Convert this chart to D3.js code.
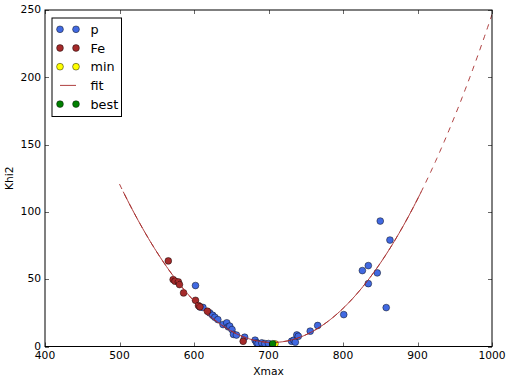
<!DOCTYPE html>
<html>
<head>
<meta charset="utf-8">
<script src="https://cdn.jsdelivr.net/npm/d3@7"></script>
<style>
  body { margin: 0; background: #fff; }
  svg { display: block; }
</style>
</head>
<body>
<div class="chart"></div>
<script>
// proton points (Xmax, Khi2)
const pX = [602, 608, 612, 621, 625, 628, 632, 639, 644, 646, 648, 651, 653, 657, 668, 682, 684, 686, 691, 695, 700, 731, 734, 736, 738, 740, 756, 766, 801, 826, 834, 834, 846, 850, 858, 863]
const pY = [45.3, 29.4, 29, 25, 23.2, 21.7, 20, 16.3, 17.6, 14.6, 15.1, 12.6, 9, 8.5, 6.9, 4.7, 2.7, 2.2, 2.7, 2.2, 2.2, 3.9, 4.7, 3.2, 8.6, 7.6, 11.4, 15.6, 23.7, 56.4, 60.1, 46.7, 54.7, 93.2, 28.9, 79.1]
// iron points
const feX = [565.5, 572, 574.5, 579, 580.5, 586, 602, 606, 608, 618, 666]
const feY = [63.6, 49.7, 48.5, 48, 46, 39.8, 34.3, 30.4, 29.5, 26.2, 3.9]
const minPt = [708.7, 2]
const bestPt = [705.6, 2]
// parabola fit: a*(x-x0)^2 + c
const fitA = 0.0028, fitX0 = 705, fitC = 3
const fitSolid = [505, 905]
const fitDashed = [500, 1000]

const xTicks = [400, 500, 600, 700, 800, 900, 1000]
const yTicks = [0, 50, 100, 150, 200, 250]
const legendLabels = ["p", "Fe", "min", "fit", "best"]

const width = 510, height = 383
const margin = { top: 10, right: 18, bottom: 36, left: 45 }
const colors = { p: "#4169e1", Fe: "#a52a2a", min: "#ffff00", best: "#008000", fit: "#a52a2a" }

const x = d3.scaleLinear().domain([400, 1000]).range([margin.left, width - margin.right])
const y = d3.scaleLinear().domain([0, 250]).range([height - margin.bottom - 0.5, margin.top])

const svg = d3.select(".chart").append("svg")
  .attr("width", width)
  .attr("height", height)
  .attr("font-family", "DejaVu Sans, sans-serif")

svg.append("clipPath").attr("id", "clip")
  .append("rect")
  .attr("x", x(400)).attr("y", y(250))
  .attr("width", x(1000) - x(400)).attr("height", y(0) - y(250))

const plot = svg.append("g").attr("clip-path", "url(#clip)")

const r = 3.4

function dots(xs, ys, color) {
  plot.append("g").selectAll("circle")
    .data(xs.map((v, i) => [v, ys[i]]))
    .join("circle")
    .attr("cx", d => x(d[0]))
    .attr("cy", d => y(d[1]))
    .attr("r", r)
    .attr("fill", color)
    .attr("stroke", "#000")
    .attr("stroke-width", 0.45)
}

dots(pX, pY, colors.p)
dots(feX, feY, colors.Fe)
dots([minPt[0]], [minPt[1]], colors.min)

const fit = v => fitA * (v - fitX0) ** 2 + fitC
const line = d3.line().x(d => x(d)).y(d => y(fit(d)))

plot.append("path")
  .attr("d", line(d3.range(fitDashed[0], fitDashed[1] + 0.1, 2)))
  .attr("fill", "none")
  .attr("stroke", colors.fit)
  .attr("stroke-width", 0.9)
  .attr("stroke-dasharray", "5.5,5.5")

plot.append("path")
  .attr("d", line(d3.range(fitSolid[0], fitSolid[1] + 0.1, 2)))
  .attr("fill", "none")
  .attr("stroke", colors.fit)
  .attr("stroke-width", 0.9)

dots([bestPt[0]], [bestPt[1]], colors.best)

// axes with inward ticks on all sides
const tickLen = 4
const gAxes = svg.append("g").attr("stroke", "#000").attr("stroke-width", 0.6)
xTicks.forEach(t => {
  const px = Math.round(x(t)) + 0.5
  gAxes.append("line").attr("x1", px).attr("x2", px).attr("y1", y(0)).attr("y2", y(0) - tickLen)
  gAxes.append("line").attr("x1", px).attr("x2", px).attr("y1", y(250)).attr("y2", y(250) + tickLen)
})
yTicks.forEach(t => {
  const py = Math.round(y(t)) + 0.5
  gAxes.append("line").attr("x1", x(400)).attr("x2", x(400) + tickLen).attr("y1", py).attr("y2", py)
  gAxes.append("line").attr("x1", x(1000)).attr("x2", x(1000) - tickLen).attr("y1", py).attr("y2", py)
})

svg.append("rect")
  .attr("x", x(400)).attr("y", y(250))
  .attr("width", x(1000) - x(400)).attr("height", y(0) - y(250))
  .attr("fill", "none").attr("stroke", "#000").attr("stroke-width", 1)

svg.append("g").selectAll("text").data(xTicks).join("text")
  .attr("x", d => x(d)).attr("y", y(0) + 12.8)
  .attr("text-anchor", "middle")
  .attr("font-size", 10.7)
  .text(d => d)

svg.append("g").selectAll("text").data(yTicks).join("text")
  .attr("x", x(400) - 4).attr("y", d => y(d) + 3.2)
  .attr("text-anchor", "end")
  .attr("font-size", 10.7)
  .text(d => d)

svg.append("text")
  .attr("x", (x(400) + x(1000)) / 2).attr("y", 375)
  .attr("text-anchor", "middle").attr("font-size", 10.7)
  .text("Xmax")

svg.append("text")
  .attr("transform", `translate(13,${(y(0) + y(250)) / 2}) rotate(-90)`)
  .attr("text-anchor", "middle").attr("font-size", 10.7)
  .text("Khi2")

// legend
const lg = svg.append("g").attr("transform", "translate(52,18)")
lg.append("rect").attr("x", 0).attr("y", 0).attr("width", 69.5).attr("height", 98.5)
  .attr("fill", "#fff").attr("stroke", "#000").attr("stroke-width", 1)

legendLabels.forEach((name, i) => {
  const cy = 11.3 + i * 18.7
  if (name === "fit") {
    lg.append("line").attr("x1", 8).attr("x2", 24).attr("y1", cy).attr("y2", cy)
      .attr("stroke", colors.fit).attr("stroke-width", 0.9)
  } else {
    [8, 24].forEach(cx => {
      lg.append("circle").attr("cx", cx).attr("cy", cy).attr("r", r)
        .attr("fill", colors[name]).attr("stroke", "#000").attr("stroke-width", 0.45)
    })
  }
  lg.append("text").attr("x", 38.5).attr("y", cy + 4.5)
    .attr("font-size", 12.8)
    .text(name)
})
</script>
</body>
</html>
